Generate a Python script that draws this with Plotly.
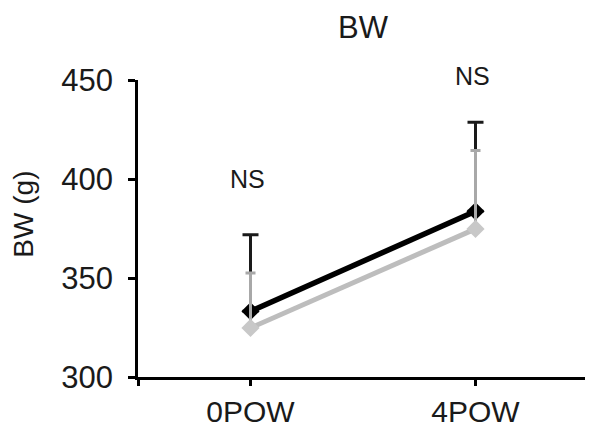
import plotly.graph_objects as go

categories = ["0POW", "4POW"]
black_mean = [333.2, 383.7]
black_sd = [38.6, 45.0]
gray_mean = [324.8, 374.8]
gray_sd = [27.7, 39.6]
sig_labels = ["NS", "NS"]
sig_y = [400, 452]
y_ticks = [300, 350, 400, 450]
y_range = [300, 450]

FONT = "Liberation Sans, Arial, sans-serif"
xs = list(range(len(categories)))

fig = go.Figure()
fig.add_trace(go.Scatter(
    x=xs, y=black_mean, mode="lines+markers",
    line=dict(color="black", width=5.5),
    marker=dict(symbol="diamond", size=14, color="black"),
    error_y=dict(type="data", array=black_sd, arrayminus=[0] * len(black_sd),
                 color="#1a1a1a", thickness=3, width=8),
    showlegend=False, cliponaxis=False,
))
fig.add_trace(go.Scatter(
    x=xs, y=gray_mean, mode="lines+markers",
    line=dict(color="#bdbdbd", width=5),
    marker=dict(symbol="diamond", size=14, color="#c8c8c8"),
    error_y=dict(type="data", array=gray_sd, arrayminus=[0] * len(gray_sd),
                 color="#a8a8a8", thickness=3, width=5),
    showlegend=False, cliponaxis=False,
))

for x, y, t in zip(xs, sig_y, sig_labels):
    fig.add_annotation(x=x, xref="x",
                       y=(y - y_range[0]) / (y_range[1] - y_range[0]), yref="y domain",
                       xanchor="center", yanchor="middle",
                       text=t, showarrow=False, xshift=-3,
                       font=dict(family=FONT, size=25, color="#1a1a1a"))

fig.add_annotation(text="BW (g)", textangle=-90, xref="paper", yref="paper",
                   x=-(130 - 16) / 450, y=0.55, xanchor="center", yanchor="middle",
                   showarrow=False,
                   font=dict(family=FONT, size=28, color="#1a1a1a"))

fig.update_layout(
    width=585, height=425,
    margin=dict(l=130, r=5, t=72, b=47),
    paper_bgcolor="white", plot_bgcolor="white",
    title=dict(text="BW", x=0.5, xref="paper", xanchor="center",
               y=1 - 19 / 425, yanchor="middle",
               font=dict(family=FONT, size=31, color="#1a1a1a")),
    font=dict(family=FONT, color="#1a1a1a"),
)
fig.update_xaxes(
    range=[-0.5, 1.5], tickvals=[-0.5] + xs + [1.5], ticktext=[""] + categories + [""],
    showline=True, linecolor="black", linewidth=2.5, showgrid=False, zeroline=False,
    ticks="outside", ticklen=6, tickwidth=2.5, tickcolor="black",
    tickfont=dict(size=30, family=FONT, color="#1a1a1a"),
)
fig.update_yaxes(
    range=y_range, tickvals=y_ticks,
    showline=True, linecolor="black", linewidth=2.5, showgrid=False, zeroline=False,
    ticks="outside", ticklen=7, tickwidth=2.5, tickcolor="black",
    ticklabelstandoff=9,
    tickfont=dict(size=31, family=FONT, color="#1a1a1a"),
)

fig.write_html("out.html")
